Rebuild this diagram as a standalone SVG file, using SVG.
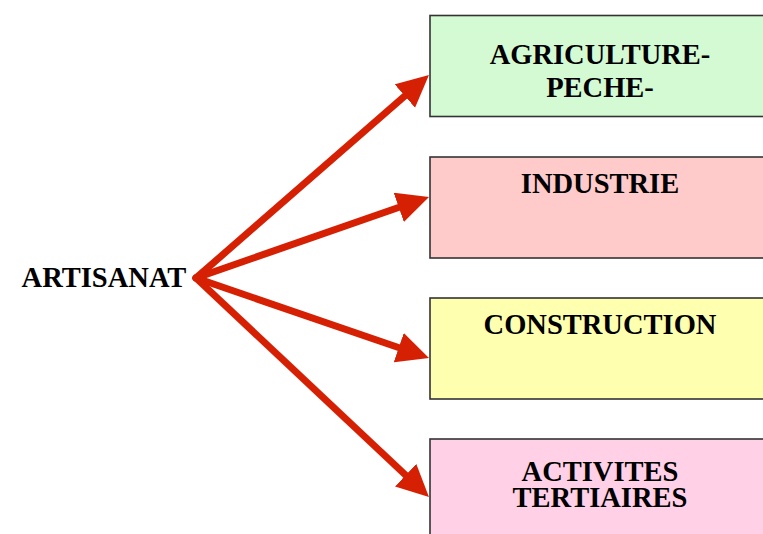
<svg xmlns="http://www.w3.org/2000/svg" width="763" height="534" viewBox="0 0 763 534">
<style>
.box{stroke:#333;stroke-width:1.6}
.lbl{font-family:"Liberation Serif","Times New Roman",serif;font-weight:bold;font-size:28.5px;fill:#000;text-anchor:middle}
.conn{stroke:#d62004;stroke-width:7;fill:none;stroke-linecap:round}
</style>
<defs>
<marker id="ah" markerUnits="userSpaceOnUse" markerWidth="34" markerHeight="32" refX="2" refY="15.5" orient="auto">
<path d="M0,0 L32,15.5 L0,31 z" fill="#d62004"/>
</marker>
</defs>
<rect width="763" height="534" fill="#fff"/>
<g id="connectors">
<line class="conn" x1="196" y1="278" x2="406.34" y2="94.66" marker-end="url(#ah)"/>
<line class="conn" x1="196" y1="278" x2="400.65" y2="206.81" marker-end="url(#ah)"/>
<line class="conn" x1="196" y1="278" x2="400.61" y2="348.29" marker-end="url(#ah)"/>
<line class="conn" x1="196" y1="278" x2="407.10" y2="476.50" marker-end="url(#ah)"/>
</g>
<g id="artisanat">
<text class="lbl" x="104" y="287">ARTISANAT</text>
</g>
<g id="agriculture">
<rect class="box" x="430" y="15.5" width="340" height="101" fill="#d4fad4"/>
<text class="lbl" x="600" y="64">AGRICULTURE-</text>
<text class="lbl" x="600" y="97">PECHE-</text>
</g>
<g id="industrie">
<rect class="box" x="430" y="157" width="340" height="101" fill="#ffcaca"/>
<text class="lbl" x="600" y="193">INDUSTRIE</text>
</g>
<g id="construction">
<rect class="box" x="430" y="298" width="340" height="101" fill="#ffffb0"/>
<text class="lbl" x="600" y="334">CONSTRUCTION</text>
</g>
<g id="activites">
<rect class="box" x="430" y="439" width="340" height="101" fill="#ffd0e6"/>
<text class="lbl" x="600" y="481">ACTIVITES</text>
<text class="lbl" x="600" y="507">TERTIAIRES</text>
</g>
</svg>
